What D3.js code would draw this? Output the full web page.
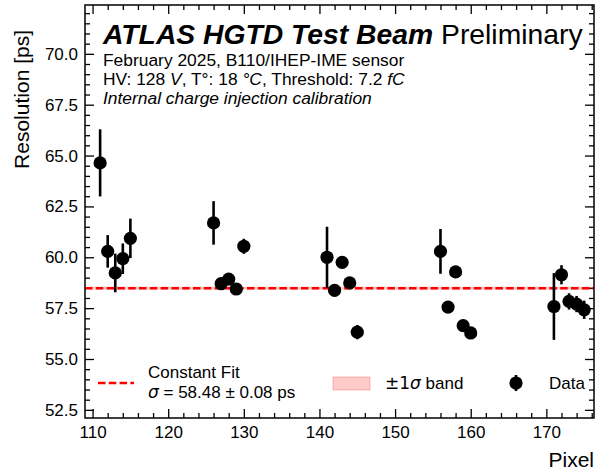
<!DOCTYPE html>
<html>
<head>
<meta charset="utf-8">
<script src="https://cdn.jsdelivr.net/npm/d3@7"></script>
<style>
  html, body { margin: 0; padding: 0; background: #fff; }
  svg { display: block; font-family: "Liberation Sans", Arial, sans-serif; }
</style>
</head>
<body>
<svg id="chart" width="599" height="470"></svg>
<script>
// Per-pixel timing resolution from the HGTD test beam
const pixels = [111, 112, 113, 114, 115, 126, 127, 128, 129, 130, 141, 142, 143, 144, 145,
                156, 157, 158, 159, 160, 171, 172, 173, 174, 175];
const resolution = [64.64, 60.29, 59.23, 59.93, 60.93, 61.69, 58.70, 58.93, 58.44, 60.54,
                    60.00, 58.37, 59.75, 58.74, 56.32, 60.29, 57.55, 59.28, 56.64, 56.28,
                    57.58, 59.14, 57.83, 57.70, 57.42];
const resolutionErr = [1.65, 0.80, 0.95, 0.75, 0.97, 1.07, 0.20, 0.20, 0.20, 0.37,
                       1.50, 0.20, 0.20, 0.20, 0.35, 1.10, 0.20, 0.20, 0.20, 0.20,
                       1.64, 0.47, 0.40, 0.40, 0.45];

// Constant fit result
const fitValue = 58.48;
const fitError = 0.08;

const xTicks = [110, 120, 130, 140, 150, 160, 170];
const yTicks = [52.5, 55.0, 57.5, 60.0, 62.5, 65.0, 67.5, 70.0];

const margin = { left: 85, right: 5, top: 5, bottom: 52 };
const W = 599, H = 470;
const svg = d3.select("#chart");

const x = d3.scaleLinear().domain([109.0, 176.3]).range([margin.left, W - margin.right]);
const y = d3.scaleLinear().domain([52.1, 72.4]).range([H - margin.bottom, margin.top]);
const x0 = x.range()[0], x1 = x.range()[1], y0 = y.range()[0], y1 = y.range()[1];

// minor ticks
const xMinor = d3.range(110, 177, 2).filter(v => v % 10 !== 0 && v > x.domain()[0] && v < x.domain()[1]);
const yMinor = d3.range(52.5, 72.4, 0.5).filter(v => Math.abs((v / 2.5) - Math.round(v / 2.5)) > 1e-6);

function styleAxis(g) {
  g.select(".domain").remove();
  g.selectAll(".tick line").attr("stroke", "#000").attr("stroke-width", 1.3);
  g.selectAll(".tick text").attr("fill", "#000").style("font-size", "17px")
    .style("font-family", "'Liberation Sans', Arial, sans-serif");
}

// bottom axis with labels
svg.append("g").attr("transform", `translate(0,${y0})`)
  .call(d3.axisBottom(x).tickValues(xTicks).tickFormat(d3.format("d")).tickSize(-9).tickPadding(8))
  .call(styleAxis);
svg.append("g").attr("transform", `translate(0,${y0})`)
  .call(d3.axisBottom(x).tickValues(xMinor).tickFormat("").tickSize(-5))
  .call(styleAxis);
// top axis (mirrored ticks)
svg.append("g").attr("transform", `translate(0,${y1})`)
  .call(d3.axisTop(x).tickValues(xTicks).tickFormat("").tickSize(-9))
  .call(styleAxis);
svg.append("g").attr("transform", `translate(0,${y1})`)
  .call(d3.axisTop(x).tickValues(xMinor).tickFormat("").tickSize(-5))
  .call(styleAxis);
// left axis with labels
svg.append("g").attr("transform", `translate(${x0},0)`)
  .call(d3.axisLeft(y).tickValues(yTicks).tickFormat(d3.format(".1f")).tickSize(-9).tickPadding(7))
  .call(styleAxis);
svg.append("g").attr("transform", `translate(${x0},0)`)
  .call(d3.axisLeft(y).tickValues(yMinor).tickFormat("").tickSize(-5))
  .call(styleAxis);
// right axis (mirrored ticks)
svg.append("g").attr("transform", `translate(${x1},0)`)
  .call(d3.axisRight(y).tickValues(yTicks).tickFormat("").tickSize(-9))
  .call(styleAxis);
svg.append("g").attr("transform", `translate(${x1},0)`)
  .call(d3.axisRight(y).tickValues(yMinor).tickFormat("").tickSize(-5))
  .call(styleAxis);

// ±1σ band and constant fit line
svg.append("rect")
  .attr("x", x0).attr("width", x1 - x0)
  .attr("y", y(fitValue + fitError)).attr("height", y(fitValue - fitError) - y(fitValue + fitError))
  .attr("fill", "#ff0000").attr("fill-opacity", 0.2);
svg.append("line")
  .attr("x1", x0).attr("x2", x1).attr("y1", y(fitValue)).attr("y2", y(fitValue))
  .attr("stroke", "#ff0000").attr("stroke-width", 2.4).attr("stroke-dasharray", "7.5,3.3");

// data points with error bars
const pts = pixels.map((p, i) => ({ p, v: resolution[i], e: resolutionErr[i] }));
svg.append("g").selectAll("line").data(pts).join("line")
  .attr("x1", d => x(d.p)).attr("x2", d => x(d.p))
  .attr("y1", d => y(d.v - d.e)).attr("y2", d => y(d.v + d.e))
  .attr("stroke", "#000").attr("stroke-width", 2.6);
svg.append("g").selectAll("circle").data(pts).join("circle")
  .attr("cx", d => x(d.p)).attr("cy", d => y(d.v)).attr("r", 6.6).attr("fill", "#000");

// frame
svg.append("rect").attr("x", x0).attr("y", y1).attr("width", x1 - x0).attr("height", y0 - y1)
  .attr("fill", "none").attr("stroke", "#000").attr("stroke-width", 1.5);

// axis titles
svg.append("text").attr("transform", `translate(29,30) rotate(-90)`)
  .attr("text-anchor", "end").style("font-size", "21px").text("Resolution [ps]");
svg.append("text").attr("x", x1).attr("y", 467).attr("text-anchor", "end")
  .style("font-size", "21px").text("Pixel");

// experiment label
const title = svg.append("text").attr("x", 103).attr("y", 43.5).style("font-size", "28.3px");
title.append("tspan").style("font-weight", "bold").style("font-style", "italic").text("ATLAS HGTD Test Beam");
title.append("tspan").text(" Preliminary");

const sub = 17.4;
svg.append("text").attr("x", 103).attr("y", 65.5).style("font-size", sub + "px")
  .text("February 2025, B110/IHEP-IME sensor");
const hv = svg.append("text").attr("x", 103).attr("y", 84.5).style("font-size", sub + "px");
hv.append("tspan").text("HV: 128 ");
hv.append("tspan").style("font-style", "italic").text("V");
hv.append("tspan").text(", T°: 18 ");
hv.append("tspan").style("font-style", "italic").text("°C");
hv.append("tspan").text(", Threshold: 7.2 ");
hv.append("tspan").style("font-style", "italic").text("fC");
svg.append("text").attr("x", 103).attr("y", 103.5).style("font-size", sub + "px")
  .style("font-style", "italic").text("Internal charge injection calibration");

// legend
const lg = svg.append("g").style("font-size", "17px");
const ly = 383;
lg.append("line").attr("x1", 98).attr("x2", 134).attr("y1", ly).attr("y2", ly)
  .attr("stroke", "#ff0000").attr("stroke-width", 2.4).attr("stroke-dasharray", "7.5,3.3");
lg.append("text").attr("x", 148).attr("y", 378).text("Constant Fit");
const sig = lg.append("text").attr("x", 148).attr("y", 398);
sig.append("tspan").style("font-style", "italic").style("font-family", "'DejaVu Sans', sans-serif").text("σ");
sig.append("tspan").text(` = ${fitValue.toFixed(2)} ± ${fitError.toFixed(2)} ps`);

lg.append("rect").attr("x", 333).attr("y", 377).attr("width", 37).attr("height", 13)
  .attr("fill", "#ff0000").attr("fill-opacity", 0.2)
  .attr("stroke", "#ff0000").attr("stroke-opacity", 0.25).attr("stroke-width", 1);
const band = lg.append("text").attr("x", 385).attr("y", 389);
band.append("tspan").style("font-family", "'DejaVu Sans', sans-serif").text("±1");
band.append("tspan").style("font-family", "'DejaVu Sans', sans-serif").style("font-style", "italic").text("σ");
band.append("tspan").text(" band");

lg.append("line").attr("x1", 516).attr("x2", 516).attr("y1", ly - 8).attr("y2", ly + 8)
  .attr("stroke", "#000").attr("stroke-width", 2.6);
lg.append("circle").attr("cx", 516).attr("cy", ly).attr("r", 6.6).attr("fill", "#000");
lg.append("text").attr("x", 549).attr("y", 389).text("Data");
</script>
</body>
</html>
